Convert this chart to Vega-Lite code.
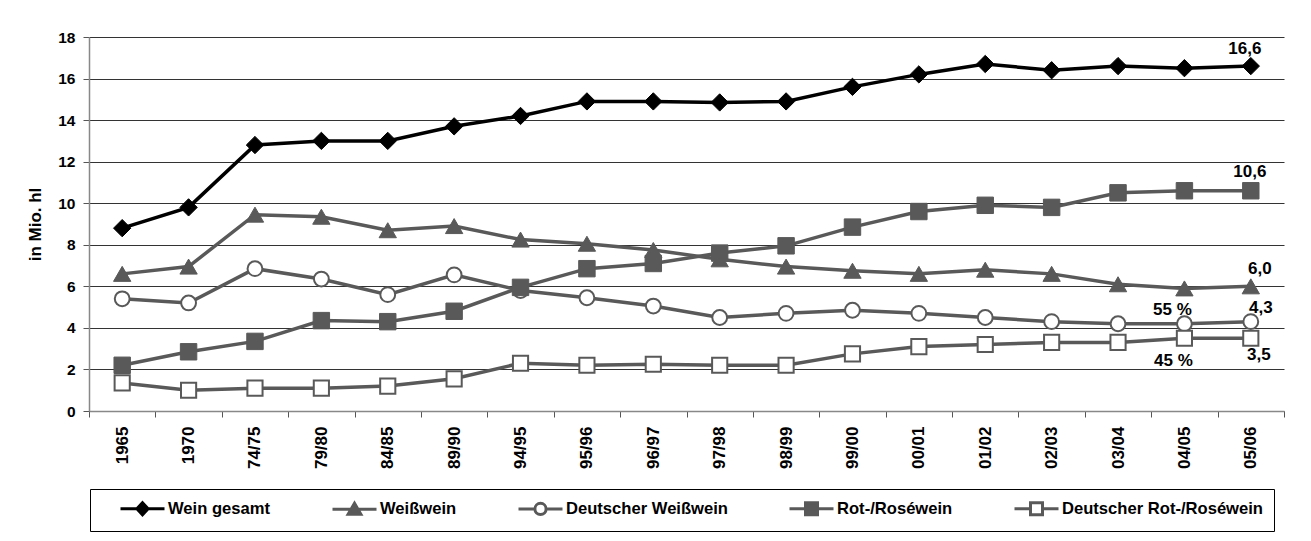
{
  "$schema": "https://vega.github.io/schema/vega-lite/v6.json",
  "width": 1195,
  "height": 374,
  "autosize": {"type": "none"},
  "padding": {"left": 89, "top": 37, "right": 27, "bottom": 130},
  "background": "white",
  "config": {"view": {"stroke": null}, "font": "Liberation Sans"},
  "datasets": {
    "wine": [
      {"period": "1965", "series": "Wein gesamt", "value": 8.8},
      {"period": "1970", "series": "Wein gesamt", "value": 9.8},
      {"period": "74/75", "series": "Wein gesamt", "value": 12.8},
      {"period": "79/80", "series": "Wein gesamt", "value": 13.0},
      {"period": "84/85", "series": "Wein gesamt", "value": 13.0},
      {"period": "89/90", "series": "Wein gesamt", "value": 13.7},
      {"period": "94/95", "series": "Wein gesamt", "value": 14.2},
      {"period": "95/96", "series": "Wein gesamt", "value": 14.9},
      {"period": "96/97", "series": "Wein gesamt", "value": 14.9},
      {"period": "97/98", "series": "Wein gesamt", "value": 14.85},
      {"period": "98/99", "series": "Wein gesamt", "value": 14.9},
      {"period": "99/00", "series": "Wein gesamt", "value": 15.6},
      {"period": "00/01", "series": "Wein gesamt", "value": 16.2},
      {"period": "01/02", "series": "Wein gesamt", "value": 16.7},
      {"period": "02/03", "series": "Wein gesamt", "value": 16.4},
      {"period": "03/04", "series": "Wein gesamt", "value": 16.6},
      {"period": "04/05", "series": "Wein gesamt", "value": 16.5},
      {"period": "05/06", "series": "Wein gesamt", "value": 16.6},
      {"period": "1965", "series": "Weißwein", "value": 6.6},
      {"period": "1970", "series": "Weißwein", "value": 6.95},
      {"period": "74/75", "series": "Weißwein", "value": 9.45},
      {"period": "79/80", "series": "Weißwein", "value": 9.35},
      {"period": "84/85", "series": "Weißwein", "value": 8.7},
      {"period": "89/90", "series": "Weißwein", "value": 8.9},
      {"period": "94/95", "series": "Weißwein", "value": 8.25},
      {"period": "95/96", "series": "Weißwein", "value": 8.05},
      {"period": "96/97", "series": "Weißwein", "value": 7.75},
      {"period": "97/98", "series": "Weißwein", "value": 7.3},
      {"period": "98/99", "series": "Weißwein", "value": 6.95},
      {"period": "99/00", "series": "Weißwein", "value": 6.75},
      {"period": "00/01", "series": "Weißwein", "value": 6.6},
      {"period": "01/02", "series": "Weißwein", "value": 6.8},
      {"period": "02/03", "series": "Weißwein", "value": 6.6},
      {"period": "03/04", "series": "Weißwein", "value": 6.1},
      {"period": "04/05", "series": "Weißwein", "value": 5.9},
      {"period": "05/06", "series": "Weißwein", "value": 6.0},
      {"period": "1965", "series": "Deutscher Weißwein", "value": 5.4},
      {"period": "1970", "series": "Deutscher Weißwein", "value": 5.2},
      {"period": "74/75", "series": "Deutscher Weißwein", "value": 6.85},
      {"period": "79/80", "series": "Deutscher Weißwein", "value": 6.35},
      {"period": "84/85", "series": "Deutscher Weißwein", "value": 5.6},
      {"period": "89/90", "series": "Deutscher Weißwein", "value": 6.55},
      {"period": "94/95", "series": "Deutscher Weißwein", "value": 5.8},
      {"period": "95/96", "series": "Deutscher Weißwein", "value": 5.45},
      {"period": "96/97", "series": "Deutscher Weißwein", "value": 5.05},
      {"period": "97/98", "series": "Deutscher Weißwein", "value": 4.5},
      {"period": "98/99", "series": "Deutscher Weißwein", "value": 4.7},
      {"period": "99/00", "series": "Deutscher Weißwein", "value": 4.85},
      {"period": "00/01", "series": "Deutscher Weißwein", "value": 4.7},
      {"period": "01/02", "series": "Deutscher Weißwein", "value": 4.5},
      {"period": "02/03", "series": "Deutscher Weißwein", "value": 4.3},
      {"period": "03/04", "series": "Deutscher Weißwein", "value": 4.2},
      {"period": "04/05", "series": "Deutscher Weißwein", "value": 4.2},
      {"period": "05/06", "series": "Deutscher Weißwein", "value": 4.3},
      {"period": "1965", "series": "Rot-/Roséwein", "value": 2.2},
      {"period": "1970", "series": "Rot-/Roséwein", "value": 2.85},
      {"period": "74/75", "series": "Rot-/Roséwein", "value": 3.35},
      {"period": "79/80", "series": "Rot-/Roséwein", "value": 4.35},
      {"period": "84/85", "series": "Rot-/Roséwein", "value": 4.3},
      {"period": "89/90", "series": "Rot-/Roséwein", "value": 4.8},
      {"period": "94/95", "series": "Rot-/Roséwein", "value": 5.95},
      {"period": "95/96", "series": "Rot-/Roséwein", "value": 6.85},
      {"period": "96/97", "series": "Rot-/Roséwein", "value": 7.1},
      {"period": "97/98", "series": "Rot-/Roséwein", "value": 7.6},
      {"period": "98/99", "series": "Rot-/Roséwein", "value": 7.95},
      {"period": "99/00", "series": "Rot-/Roséwein", "value": 8.85},
      {"period": "00/01", "series": "Rot-/Roséwein", "value": 9.6},
      {"period": "01/02", "series": "Rot-/Roséwein", "value": 9.9},
      {"period": "02/03", "series": "Rot-/Roséwein", "value": 9.8},
      {"period": "03/04", "series": "Rot-/Roséwein", "value": 10.5},
      {"period": "04/05", "series": "Rot-/Roséwein", "value": 10.6},
      {"period": "05/06", "series": "Rot-/Roséwein", "value": 10.6},
      {"period": "1965", "series": "Deutscher Rot-/Roséwein", "value": 1.35},
      {"period": "1970", "series": "Deutscher Rot-/Roséwein", "value": 1.0},
      {"period": "74/75", "series": "Deutscher Rot-/Roséwein", "value": 1.1},
      {"period": "79/80", "series": "Deutscher Rot-/Roséwein", "value": 1.1},
      {"period": "84/85", "series": "Deutscher Rot-/Roséwein", "value": 1.2},
      {"period": "89/90", "series": "Deutscher Rot-/Roséwein", "value": 1.55},
      {"period": "94/95", "series": "Deutscher Rot-/Roséwein", "value": 2.3},
      {"period": "95/96", "series": "Deutscher Rot-/Roséwein", "value": 2.2},
      {"period": "96/97", "series": "Deutscher Rot-/Roséwein", "value": 2.25},
      {"period": "97/98", "series": "Deutscher Rot-/Roséwein", "value": 2.2},
      {"period": "98/99", "series": "Deutscher Rot-/Roséwein", "value": 2.2},
      {"period": "99/00", "series": "Deutscher Rot-/Roséwein", "value": 2.75},
      {"period": "00/01", "series": "Deutscher Rot-/Roséwein", "value": 3.1},
      {"period": "01/02", "series": "Deutscher Rot-/Roséwein", "value": 3.2},
      {"period": "02/03", "series": "Deutscher Rot-/Roséwein", "value": 3.3},
      {"period": "03/04", "series": "Deutscher Rot-/Roséwein", "value": 3.3},
      {"period": "04/05", "series": "Deutscher Rot-/Roséwein", "value": 3.5},
      {"period": "05/06", "series": "Deutscher Rot-/Roséwein", "value": 3.5}
    ],
    "labels": [
      {"period": "05/06", "value": 16.6, "label": "16,6"},
      {"period": "05/06", "value": 10.6, "label": "10,6"},
      {"period": "05/06", "value": 6.0, "label": "6,0"},
      {"period": "05/06", "value": 4.3, "label": "4,3"},
      {"period": "05/06", "value": 3.5, "label": "3,5"},
      {"period": "04/05", "value": 4.2, "label": "55 %"},
      {"period": "04/05", "value": 3.5, "label": "45 %"}
    ]
  },
  "data": {"name": "wine"},
  "encoding": {
    "x": {
      "field": "period",
      "type": "ordinal",
      "title": null,
      "scale": {
        "type": "band",
        "paddingInner": 0,
        "paddingOuter": 0,
        "domain": ["1965", "1970", "74/75", "79/80", "84/85", "89/90", "94/95", "95/96", "96/97", "97/98", "98/99", "99/00", "00/01", "01/02", "02/03", "03/04", "04/05", "05/06"]
      },
      "axis": {
        "tickBand": "extent",
        "labelAngle": -90,
        "labelFont": "Liberation Sans",
        "labelFontSize": 17,
        "labelFontWeight": "bold",
        "labelColor": "#000",
        "labelPadding": 9,
        "tickSize": 6,
        "tickColor": "#555",
        "domainColor": "#888",
        "domainWidth": 1.5,
        "grid": false
      }
    },
    "y": {
      "field": "value",
      "type": "quantitative",
      "title": "in Mio. hl",
      "scale": {"domain": [0, 18], "nice": false},
      "axis": {
        "values": [0, 2, 4, 6, 8, 10, 12, 14, 16, 18],
        "labelFont": "Liberation Sans",
        "labelFontSize": 15.5,
        "labelFontWeight": "bold",
        "labelColor": "#000",
        "labelPadding": 8,
        "tickSize": 6,
        "tickColor": "#555",
        "domainColor": "#888",
        "domainWidth": 1.5,
        "gridColor": "#333",
        "gridWidth": 1,
        "titleFont": "Liberation Sans",
        "titleFontSize": 17,
        "titleFontWeight": "bold",
        "titleColor": "#000",
        "titlePadding": 13
      }
    }
  },
  "layer": [
    {"transform": [{"filter": "datum.series === 'Wein gesamt'"}], "mark": {"type": "line", "stroke": "#000", "strokeWidth": 3.5}},
    {"transform": [{"filter": "datum.series === 'Wein gesamt'"}], "mark": {"type": "point", "shape": "diamond", "size": 300, "filled": true, "fill": "#000", "stroke": "#000", "strokeWidth": 1, "opacity": 1}},
    {"transform": [{"filter": "datum.series === 'Weißwein'"}], "mark": {"type": "line", "stroke": "#595959", "strokeWidth": 3.5}},
    {"transform": [{"filter": "datum.series === 'Weißwein'"}], "mark": {"type": "point", "shape": "triangle-up", "size": 300, "filled": true, "fill": "#595959", "stroke": "#595959", "strokeWidth": 1, "opacity": 1}},
    {"transform": [{"filter": "datum.series === 'Deutscher Weißwein'"}], "mark": {"type": "line", "stroke": "#595959", "strokeWidth": 3.5}},
    {"transform": [{"filter": "datum.series === 'Deutscher Weißwein'"}], "mark": {"type": "point", "shape": "circle", "size": 220, "filled": true, "fill": "#fff", "stroke": "#595959", "strokeWidth": 2, "opacity": 1}},
    {"transform": [{"filter": "datum.series === 'Rot-/Roséwein'"}], "mark": {"type": "line", "stroke": "#595959", "strokeWidth": 3.5}},
    {"transform": [{"filter": "datum.series === 'Rot-/Roséwein'"}], "mark": {"type": "point", "shape": "square", "size": 270, "filled": true, "fill": "#595959", "stroke": "#595959", "strokeWidth": 1, "opacity": 1}},
    {"transform": [{"filter": "datum.series === 'Deutscher Rot-/Roséwein'"}], "mark": {"type": "line", "stroke": "#595959", "strokeWidth": 3.5}},
    {"transform": [{"filter": "datum.series === 'Deutscher Rot-/Roséwein'"}], "mark": {"type": "point", "shape": "square", "size": 230, "filled": true, "fill": "#fff", "stroke": "#595959", "strokeWidth": 2, "opacity": 1}},
    {
      "mark": {"type": "point", "filled": true, "opacity": 0},
      "encoding": {
        "shape": {
          "field": "series",
          "type": "nominal",
          "scale": {
            "domain": ["Wein gesamt", "Weißwein", "Deutscher Weißwein", "Rot-/Roséwein", "Deutscher Rot-/Roséwein"],
            "range": [
              "M-2.75,0H2.75M0,-0.75L0.7,0L0,0.75L-0.7,0Z",
              "M-2.75,0H2.75M0,-0.75L0.8,0.65L-0.8,0.65Z",
              "M-2.75,0H-0.7M0.7,0H2.75M0.7,0A0.7,0.7 0 1,1 -0.7,0A0.7,0.7 0 1,1 0.7,0Z",
              "M-2.75,0H2.75M-0.75,-0.75H0.75V0.75H-0.75Z",
              "M-2.75,0H-0.75M0.75,0H2.75M-0.75,-0.75H0.75V0.75H-0.75Z"
            ]
          },
          "legend": {
            "title": null,
            "orient": "none",
            "legendX": 1,
            "legendY": 452,
            "direction": "horizontal",
            "symbolSize": 256,
            "symbolStrokeWidth": 3,
            "symbolOpacity": 1,
            "symbolOffset": 33,
            "labelOffset": 16,
            "columnPadding": 41,
            "padding": 10,
            "strokeColor": "#000",
            "fillColor": "#fff",
            "labelFont": "Liberation Sans",
            "labelFontSize": 16.6,
            "labelFontWeight": "bold",
            "labelColor": "#000",
            "labelLimit": 400
          }
        },
        "fill": {
          "field": "series",
          "type": "nominal",
          "scale": {
            "domain": ["Wein gesamt", "Weißwein", "Deutscher Weißwein", "Rot-/Roséwein", "Deutscher Rot-/Roséwein"],
            "range": ["#000000", "#595959", "#ffffff", "#595959", "#ffffff"]
          }
        },
        "stroke": {
          "field": "series",
          "type": "nominal",
          "scale": {
            "domain": ["Wein gesamt", "Weißwein", "Deutscher Weißwein", "Rot-/Roséwein", "Deutscher Rot-/Roséwein"],
            "range": ["#000000", "#595959", "#595959", "#595959", "#595959"]
          }
        }
      }
    },
    {"data": {"name": "labels"}, "transform": [{"filter": "datum.label === '16,6'"}], "mark": {"type": "text", "font": "Liberation Sans", "fontSize": 17, "fontWeight": "bold", "color": "#000", "align": "center", "baseline": "middle", "dx": -6, "dy": -17}, "encoding": {"text": {"field": "label"}}},
    {"data": {"name": "labels"}, "transform": [{"filter": "datum.label === '10,6'"}], "mark": {"type": "text", "font": "Liberation Sans", "fontSize": 17, "fontWeight": "bold", "color": "#000", "align": "center", "baseline": "middle", "dx": -1, "dy": -19}, "encoding": {"text": {"field": "label"}}},
    {"data": {"name": "labels"}, "transform": [{"filter": "datum.label === '6,0'"}], "mark": {"type": "text", "font": "Liberation Sans", "fontSize": 17, "fontWeight": "bold", "color": "#000", "align": "center", "baseline": "middle", "dx": 9, "dy": -17}, "encoding": {"text": {"field": "label"}}},
    {"data": {"name": "labels"}, "transform": [{"filter": "datum.label === '4,3'"}], "mark": {"type": "text", "font": "Liberation Sans", "fontSize": 17, "fontWeight": "bold", "color": "#000", "align": "center", "baseline": "middle", "dx": 10, "dy": -14}, "encoding": {"text": {"field": "label"}}},
    {"data": {"name": "labels"}, "transform": [{"filter": "datum.label === '3,5'"}], "mark": {"type": "text", "font": "Liberation Sans", "fontSize": 17, "fontWeight": "bold", "color": "#000", "align": "center", "baseline": "middle", "dx": 8, "dy": 17}, "encoding": {"text": {"field": "label"}}},
    {"data": {"name": "labels"}, "transform": [{"filter": "datum.label === '55 %'"}], "mark": {"type": "text", "font": "Liberation Sans", "fontSize": 17, "fontWeight": "bold", "color": "#000", "align": "center", "baseline": "middle", "dx": -12, "dy": -14}, "encoding": {"text": {"field": "label"}}},
    {"data": {"name": "labels"}, "transform": [{"filter": "datum.label === '45 %'"}], "mark": {"type": "text", "font": "Liberation Sans", "fontSize": 17, "fontWeight": "bold", "color": "#000", "align": "center", "baseline": "middle", "dx": -11, "dy": 23}, "encoding": {"text": {"field": "label"}}}
  ]
}
